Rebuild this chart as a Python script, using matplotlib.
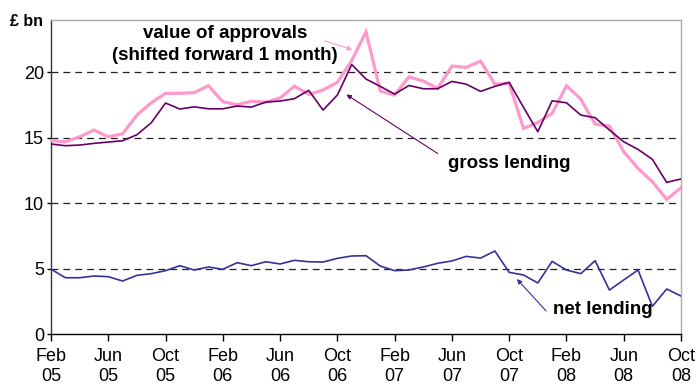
import matplotlib
matplotlib.use("Agg")
import matplotlib.pyplot as plt
import numpy as np

plt.rcParams['font.family'] = ['Liberation Sans', 'DejaVu Sans']

months = ["Feb 05", "Mar 05", "Apr 05", "May 05", "Jun 05", "Jul 05", "Aug 05", "Sep 05",
          "Oct 05", "Nov 05", "Dec 05", "Jan 06", "Feb 06", "Mar 06", "Apr 06", "May 06",
          "Jun 06", "Jul 06", "Aug 06", "Sep 06", "Oct 06", "Nov 06", "Dec 06", "Jan 07",
          "Feb 07", "Mar 07", "Apr 07", "May 07", "Jun 07", "Jul 07", "Aug 07", "Sep 07",
          "Oct 07", "Nov 07", "Dec 07", "Jan 08", "Feb 08", "Mar 08", "Apr 08", "May 08",
          "Jun 08", "Jul 08", "Aug 08", "Sep 08", "Oct 08"]

gross_lending = [14.53, 14.40, 14.45, 14.58, 14.68, 14.78, 15.24, 16.15, 17.66, 17.20,
                 17.37, 17.22, 17.22, 17.43, 17.35, 17.73, 17.81, 17.99, 18.63, 17.12,
                 18.27, 20.60, 19.49, 18.93, 18.34, 19.00, 18.75, 18.75, 19.31, 19.10,
                 18.55, 18.93, 19.24, 17.33, 15.47, 17.83, 17.68, 16.74, 16.54, 15.60,
                 14.70, 14.12, 13.36, 11.60, 11.86]

approvals = [14.78, 14.70, 15.08, 15.60, 15.08, 15.31, 16.74, 17.68, 18.40, 18.40,
             18.45, 18.98, 17.76, 17.53, 17.79, 17.73, 18.04, 18.95, 18.32, 18.65,
             19.24, 20.90, 23.10, 18.57, 18.27, 19.66, 19.34, 18.78, 20.48, 20.38,
             20.86, 19.10, 19.16, 15.72, 16.18, 16.87, 18.98, 17.96, 16.05, 15.90,
             13.94, 12.67, 11.65, 10.30, 11.19]

net_lending = [4.98, 4.32, 4.32, 4.45, 4.40, 4.07, 4.50, 4.63, 4.86, 5.24,
               4.91, 5.14, 4.96, 5.47, 5.24, 5.54, 5.37, 5.65, 5.54, 5.52,
               5.80, 5.98, 6.00, 5.21, 4.86, 4.91, 5.14, 5.42, 5.60, 5.95,
               5.82, 6.36, 4.73, 4.53, 3.92, 5.57, 4.91, 4.63, 5.62, 3.38,
               4.15, 4.91, 2.14, 3.46, 2.92]

yticks = [0, 5, 10, 15, 20]

x = np.arange(len(months))

fig = plt.figure(figsize=(6.98, 3.91), dpi=100)
ax = fig.add_axes([51/698, 1 - 334.3/391, 630/698, 314.3/391])

for v in yticks[1:]:
    ax.axhline(v, color='#222222', lw=0.9, dashes=(5.5, 4), zorder=1)

ax.plot(x, approvals, color='#FF99CC', lw=2.3, zorder=3, solid_joinstyle='miter')
ax.plot(x, gross_lending, color='#660066', lw=1.2, zorder=4)
ax.plot(x, net_lending, color='#333399', lw=1.2, zorder=4)

ax.set_xlim(0, len(months) - 1)
ax.set_ylim(0, 24)
ax.set_yticks(yticks)
ax.set_yticklabels([str(v) for v in yticks], fontsize=13)
tick_idx = list(range(0, len(months), 4))
ax.set_xticks(tick_idx)
ax.set_xticklabels([months[i].replace(' ', '\n') for i in tick_idx], fontsize=13,
                   linespacing=1.2)
ax.tick_params(axis='x', length=5, width=1, direction='out', pad=5, colors='black')
ax.tick_params(axis='y', length=3, width=1, direction='out', pad=2)

ax.spines['left'].set_color('#333333')
ax.spines['bottom'].set_color('black')
ax.spines['top'].set_color('#AAAAAA')
ax.spines['right'].set_color('#AAAAAA')
for s in ax.spines.values():
    s.set_linewidth(1)

fig.text(10/698, 1 - 22/391, "£ bn", fontsize=11.5, fontweight='bold', va='center', ha='left')

# annotations (positions in figure pixels converted to data coords)
def d(px, py):
    inv = ax.transData.inverted()
    return inv.transform((px, 391 - py))

fig.canvas.draw()
ax.text(*d(225, 34), "value of approvals", fontsize=13.5, fontweight='bold', ha='center', va='center')
ax.text(*d(225, 56), "(shifted forward 1 month)", fontsize=13.5, fontweight='bold', ha='center', va='center')
ax.annotate("", xy=d(355, 50.7), xytext=d(322, 40),
            arrowprops=dict(arrowstyle='-|>', color='#FF99CC', lw=0.8, mutation_scale=7))
ax.text(*d(509, 164), "gross lending", fontsize=13.5, fontweight='bold', ha='center', va='center')
ax.annotate("", xy=d(344, 93), xytext=d(440, 155),
            arrowprops=dict(arrowstyle='-|>', color='#660066', lw=0.8, mutation_scale=7))
ax.text(*d(603, 310), "net lending", fontsize=13.5, fontweight='bold', ha='center', va='center')
ax.annotate("", xy=d(515, 277), xytext=d(548, 313),
            arrowprops=dict(arrowstyle='-|>', color='#333399', lw=0.8, mutation_scale=7))

fig.savefig("out.png", dpi=100)
